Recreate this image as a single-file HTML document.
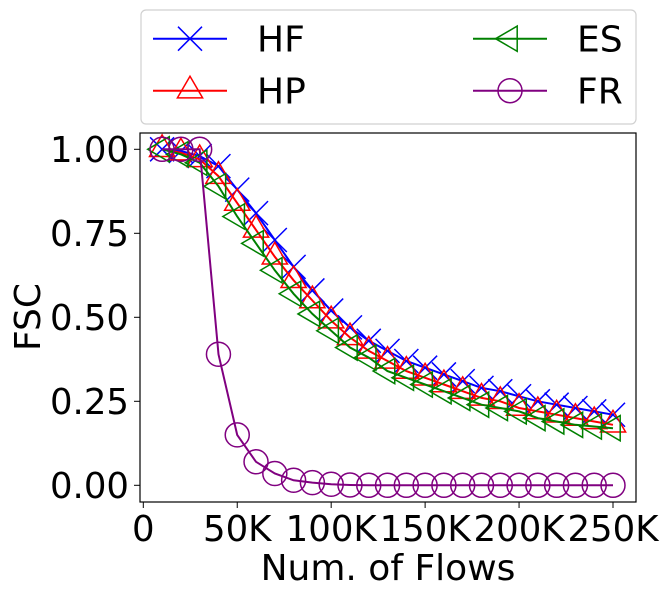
<!DOCTYPE html>
<html><head><meta charset="utf-8"><style>
html,body{margin:0;padding:0;background:#fff;}
svg{display:block;font-family:"DejaVu Sans","Liberation Sans",sans-serif;}
</style></head><body>
<svg id="chart" width="669" height="595" viewBox="0 0 669 595">
<g id="plot"></g>
<g id="axes"></g>
<g id="legend"></g>
</svg>
<script>
const flows = [10,20,30,40,50,60,70,80,90,100,110,120,130,140,150,160,170,180,190,200,210,220,230,240,250];
const hfValues = [1.0,0.995,0.98,0.95,0.88,0.81,0.73,0.65,0.58,0.52,0.47,0.43,0.40,0.37,0.35,0.33,0.31,0.29,0.28,0.265,0.25,0.24,0.23,0.22,0.21];
const hpValues = [1.0,0.99,0.97,0.92,0.84,0.76,0.68,0.61,0.55,0.49,0.44,0.40,0.37,0.34,0.32,0.30,0.28,0.26,0.25,0.23,0.22,0.21,0.20,0.19,0.18];
const esValues = [1.0,0.985,0.96,0.89,0.80,0.72,0.64,0.57,0.51,0.46,0.41,0.38,0.34,0.32,0.30,0.28,0.26,0.24,0.23,0.22,0.20,0.19,0.18,0.175,0.17];
const frValues = [1.0,1.0,1.0,0.39,0.15,0.07,0.035,0.015,0.008,0.003,0.001,0,0,0,0,0,0,0,0,0,0,0,0,0,0];
const xTicks = [0,50,100,150,200,250];
const xTickLabels = ["0","50K","100K","150K","200K","250K"];
const yTicks = [0,0.25,0.5,0.75,1.0];
const yTickLabels = ["0.00","0.25","0.50","0.75","1.00"];

const NS="http://www.w3.org/2000/svg";
const L=140,R=636,T=133,B=502;
const xs=v=>143.3+v*(613-143.3)/250;
const ys=v=>485.3-v*336;
function mk(tag,attrs,parent){const e=document.createElementNS(NS,tag);for(const k in attrs)e.setAttribute(k,attrs[k]);parent.appendChild(e);return e;}
const plot=document.getElementById('plot'),axes=document.getElementById('axes'),legend=document.getElementById('legend');

function marker(type,cx,cy,color,parent,s){
  let e;
  if(type==='x'){e=mk('path',{d:`M${cx-s} ${cy-s}L${cx+s} ${cy+s}M${cx-s} ${cy+s}L${cx+s} ${cy-s}`,stroke:color,'stroke-width':1.5,fill:'none'},parent);}
  else if(type==='tri'){e=mk('path',{d:`M${cx} ${cy-s*1.2}L${cx+s*1.05} ${cy+s*0.6}L${cx-s*1.05} ${cy+s*0.6}Z`,stroke:color,'stroke-width':1.5,fill:'none'},parent);}
  else if(type==='ltri'){e=mk('path',{d:`M${cx-s*1.2} ${cy}L${cx+s*0.6} ${cy-s*1.05}L${cx+s*0.6} ${cy+s*1.05}Z`,stroke:color,'stroke-width':1.5,fill:'none'},parent);}
  else {e=mk('circle',{cx:cx,cy:cy,r:s,stroke:color,'stroke-width':1.5,fill:'none'},parent);}
  return e;
}
const series=[
 {name:'hf',vals:hfValues,color:'#0000ff',m:'x'},
 {name:'hp',vals:hpValues,color:'#ff0000',m:'tri'},
 {name:'es',vals:esValues,color:'#008000',m:'ltri'},
 {name:'fr',vals:frValues,color:'#800080',m:'o'}
];
series.forEach(s=>{
  const g=mk('g',{},plot);
  
  
  const pts=s.vals.map((v,i)=>xs(flows[i]).toFixed(1)+','+ys(v).toFixed(1)).join(' ');
  const pl=mk('polyline',{points:pts,fill:'none',stroke:s.color,'stroke-width':2},g);
  
  
  s.vals.forEach((v,i)=>{
    const e=marker(s.m,xs(flows[i]),ys(v),s.color,g,12);
    
    
  });
});
const frame=mk('rect',{x:L,y:T,width:R-L,height:B-T,fill:'none',stroke:'#000','stroke-width':1.2},axes);


xTicks.forEach((v,i)=>{
  const x=xs(v);
  mk('line',{x1:x,x2:x,y1:B,y2:B+6,stroke:'#000','stroke-width':1},axes);
  const t=mk('text',{x:x,y:B+39,'text-anchor':'middle','font-size':35.5},axes);
  t.textContent=xTickLabels[i];
  
  
});
yTicks.forEach((v,i)=>{
  const y=ys(v);
  mk('line',{x1:L-6,x2:L,y1:y,y2:y,stroke:'#000','stroke-width':1},axes);
  const t=mk('text',{x:129,y:y+12.5,'text-anchor':'end','font-size':35.5},axes);
  t.textContent=yTickLabels[i];
  
  
});
const xl=mk('text',{x:388,y:580,'text-anchor':'middle','font-size':36},axes);
xl.textContent='Num. of Flows';


const yl=mk('text',{x:0,y:0,'text-anchor':'middle','font-size':36,transform:'translate(40,317) rotate(-90)'},axes);
yl.textContent='FSC';



const box=mk('rect',{x:141,y:10,width:495,height:114,rx:5,fill:'#fff',stroke:'#d0d0d0','stroke-width':1.2},legend);


const legItems=[
 {label:'HF',lx:153,y:38.7,s:series[0]},
 {label:'HP',lx:153,y:90.7,s:series[1]},
 {label:'ES',lx:473,y:38.7,s:series[2]},
 {label:'FR',lx:473,y:90.7,s:series[3]}
];
legItems.forEach(it=>{
  const g=mk('g',{},legend);
  
  
  mk('line',{x1:it.lx,x2:it.lx+74,y1:it.y,y2:it.y,stroke:it.s.color,'stroke-width':2},g);
  marker(it.s.m,it.lx+37,it.y,it.s.color,g,12);
  const t=mk('text',{x:it.lx+104,y:it.y+13,'font-size':36},g);
  t.textContent=it.label;
});
</script>
</body></html>
